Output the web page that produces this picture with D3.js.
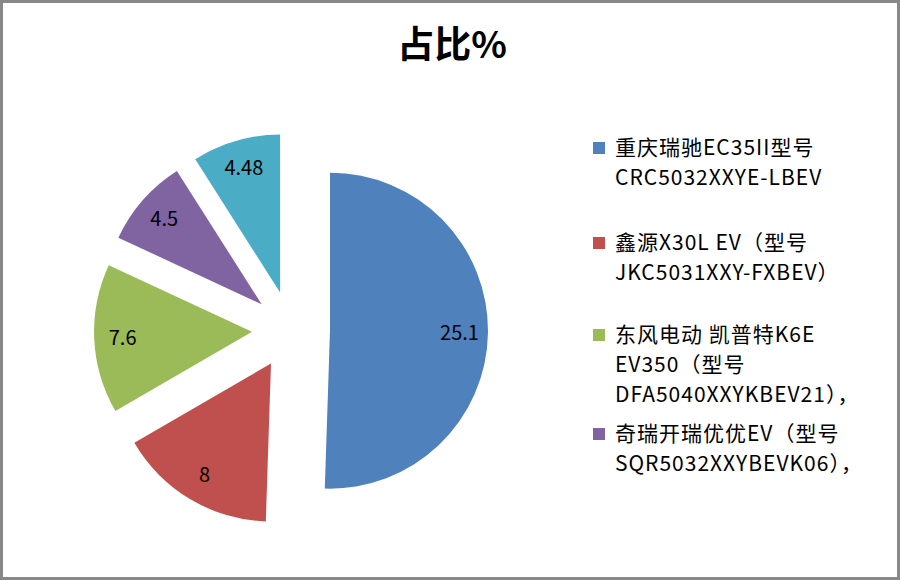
<!DOCTYPE html>
<meta charset="utf-8">
<style>
body { margin: 0; background: #fff; }
svg { display: block; }
.title { font-family: "Noto Sans CJK SC", sans-serif; font-size: 37px; font-weight: bold; }
.lbl { font-family: "Noto Sans CJK SC", sans-serif; font-size: 20px; fill: #000; }
.legend text { font-family: "Noto Sans CJK SC", sans-serif; font-size: 21px; letter-spacing: 1px; fill: #000; }
</style>
<body>
<script src="https://d3js.org/d3.v7.min.js"></script>
<script>

// slice values, clockwise from 12 o'clock
var values = [25.1, 8, 7.6, 4.5, 4.48];
var colors = ["#4F81BD", "#C0504D", "#9BBB59", "#8064A2", "#4BACC6"];
// legend text, one array per entry (lines); the 5th entry is clipped in the original
var legendLines = [
  ["重庆瑞驰EC35II型号", "CRC5032XXYE-LBEV"],
  ["鑫源X30L EV（型号", "JKC5031XXY-FXBEV）"],
  ["东风电动 凯普特K6E", "EV350（型号", "DFA5040XXYKBEV21），"],
  ["奇瑞开瑞优优EV（型号", "SQR5032XXYBEVK06），"]
];

var width = 900, height = 580;

var svg = d3.select("body").append("svg")
    .attr("width", width)
    .attr("height", height);

// outer frame
svg.append("rect")
    .attr("x", 1.5).attr("y", 1.5)
    .attr("width", width - 3).attr("height", height - 3)
    .attr("fill", "#fff")
    .attr("stroke", "#888")
    .attr("stroke-width", 3);

svg.append("text")
    .attr("class", "title")
    .attr("x", 452)
    .attr("y", 58)
    .attr("text-anchor", "middle")
    .text("占比%");

// pie
var cx = 291, cy = 330, r = 158, explode = 39;

var pie = d3.pie().sort(null).value(function(d) { return d; });
var arc = d3.arc().innerRadius(0).outerRadius(r);
var arcs = pie(values);

function offset(d, dist) {
  var a = (d.startAngle + d.endAngle) / 2;
  return [Math.sin(a) * dist, -Math.cos(a) * dist];
}

var g = svg.append("g").attr("transform", "translate(" + cx + "," + cy + ")");

var slices = g.selectAll(".slice")
    .data(arcs)
  .enter().append("g")
    .attr("class", "slice")
    .attr("transform", function(d) {
      var o = offset(d, explode);
      return "translate(" + o[0] + "," + o[1] + ")";
    });

slices.append("path")
    .attr("d", arc)
    .attr("fill", function(d, i) { return colors[i]; });

slices.append("text")
    .attr("class", "lbl")
    .attr("text-anchor", "middle")
    .attr("dy", "0.35em")
    .attr("transform", function(d) {
      var o = offset(d, r * 0.82);
      return "translate(" + o[0] + "," + o[1] + ")";
    })
    .text(function(d) { return d.data; });

// legend
var legendTop = [148, 243, 335, 434];
var lineH = 30;

var legend = svg.append("g").attr("class", "legend");

var items = legend.selectAll(".item")
    .data(legendLines)
  .enter().append("g")
    .attr("class", "item")
    .attr("transform", function(d, i) { return "translate(0," + legendTop[i] + ")"; });

items.append("rect")
    .attr("x", 593).attr("y", -6)
    .attr("width", 12).attr("height", 12)
    .attr("fill", function(d, i) { return colors[i]; });

items.selectAll("text")
    .data(function(d) { return d; })
  .enter().append("text")
    .attr("x", 615)
    .attr("y", function(d, j) { return j * lineH; })
    .attr("dy", "0.35em")
    .text(function(d) { return d; });

</script>
</body>
